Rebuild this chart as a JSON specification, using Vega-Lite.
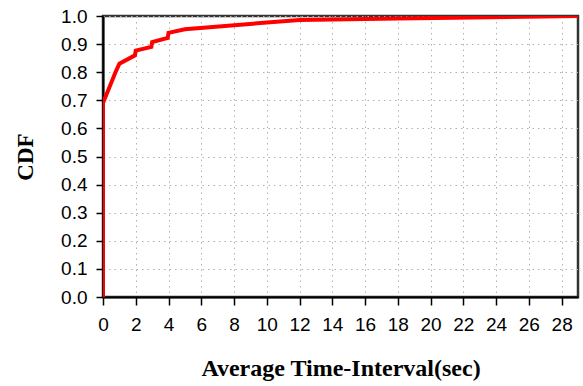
{
  "$schema": "https://vega.github.io/schema/vega-lite/v6.json",
  "width": 475,
  "height": 281,
  "autosize": "none",
  "padding": {"left": 103, "top": 16, "right": 5, "bottom": 89},
  "background": "white",
  "config": {
    "view": {"stroke": "#333333", "strokeWidth": 2.5},
    "axis": {
      "labelFont": "Liberation Sans",
      "labelFontSize": 19,
      "labelColor": "#000000",
      "titleFont": "Liberation Serif",
      "titleFontWeight": "bold",
      "titleColor": "#000000",
      "domainColor": "#000000",
      "domainWidth": 2,
      "tickColor": "#000000",
      "tickWidth": 1.5,
      "gridColor": "#b0b0b0",
      "gridDash": [1.5, 4],
      "gridWidth": 1
    }
  },
  "data": {
    "values": [
      {"i": 0, "x": 0, "cdf": 0.0},
      {"i": 1, "x": 0, "cdf": 0.69},
      {"i": 2, "x": 0.8, "cdf": 0.805},
      {"i": 3, "x": 1, "cdf": 0.83},
      {"i": 4, "x": 1.95, "cdf": 0.86},
      {"i": 5, "x": 2, "cdf": 0.877},
      {"i": 6, "x": 2.95, "cdf": 0.89},
      {"i": 7, "x": 3, "cdf": 0.907},
      {"i": 8, "x": 3.95, "cdf": 0.922},
      {"i": 9, "x": 4, "cdf": 0.94},
      {"i": 10, "x": 5, "cdf": 0.953},
      {"i": 11, "x": 12, "cdf": 0.986},
      {"i": 12, "x": 18, "cdf": 0.991},
      {"i": 13, "x": 29, "cdf": 1.0}
    ]
  },
  "mark": {"type": "line", "color": "#ff0000", "strokeWidth": 4, "clip": true},
  "encoding": {
    "order": {"field": "i", "type": "quantitative"},
    "x": {
      "field": "x",
      "type": "quantitative",
      "scale": {"domain": [0, 29], "nice": false},
      "axis": {
        "title": "Average Time-Interval(sec)",
        "titleFontSize": 24,
        "titlePadding": 22,
        "values": [0, 2, 4, 6, 8, 10, 12, 14, 16, 18, 20, 22, 24, 26, 28],
        "tickSize": 8,
        "labelPadding": 10,
        "labelFlush": false,
        "labelOverlap": false
      }
    },
    "y": {
      "field": "cdf",
      "type": "quantitative",
      "scale": {"domain": [0, 1], "nice": false},
      "axis": {
        "title": "CDF",
        "titleFontSize": 23,
        "titlePadding": 23,
        "values": [0, 0.1, 0.2, 0.3, 0.4, 0.5, 0.6, 0.7, 0.8, 0.9, 1.0],
        "format": ".1f",
        "tickSize": 7,
        "labelPadding": 9,
        "labelFlush": false,
        "labelOverlap": false
      }
    }
  }
}
